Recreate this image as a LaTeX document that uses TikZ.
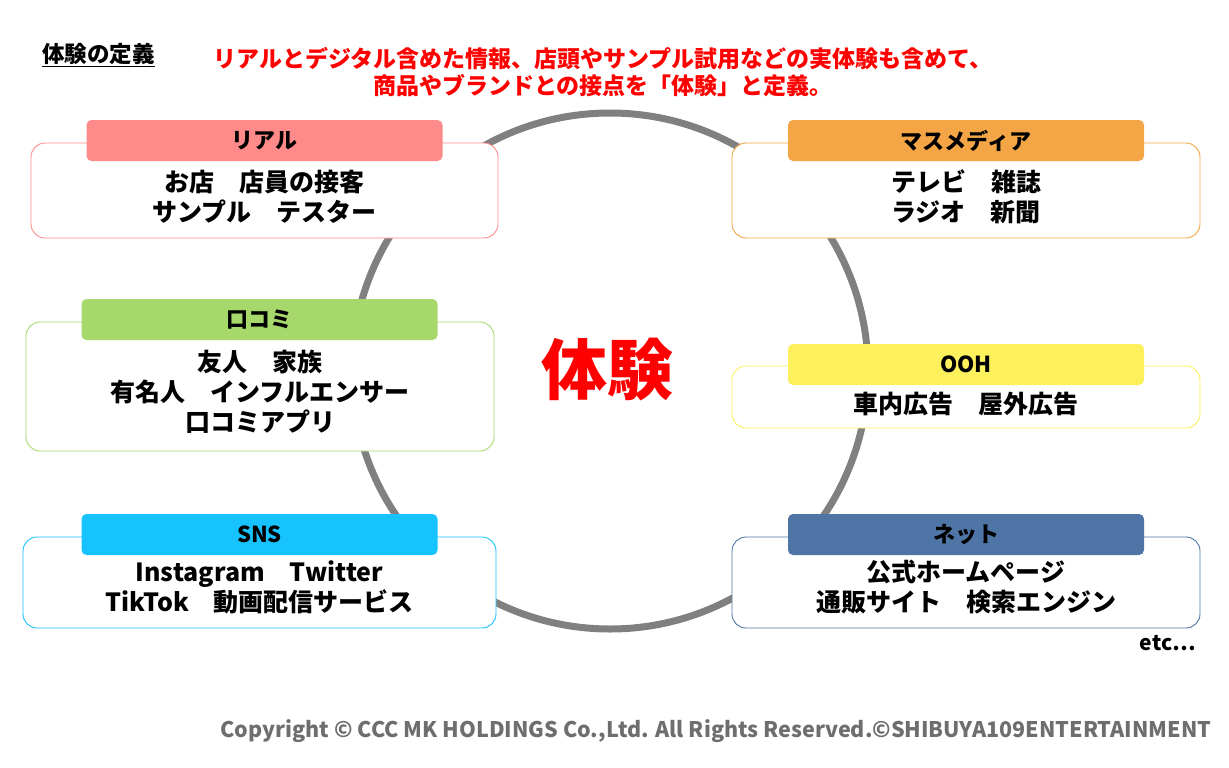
\documentclass[tikz,border=0pt]{standalone}
\usepackage{fontspec}
\setmainfont{Noto Sans CJK JP}
\usepackage{xcolor}
\usepackage{tikz}
\definecolor{realclr}{RGB}{255,138,138}
\definecolor{massclr}{RGB}{244,166,70}
\definecolor{kuchiclr}{RGB}{166,216,108}
\definecolor{oohclr}{RGB}{252,240,92}
\definecolor{snsclr}{RGB}{23,195,254}
\definecolor{netclr}{RGB}{79,116,166}
\definecolor{ringclr}{RGB}{128,128,128}
\definecolor{copyclr}{RGB}{110,110,110}
\tikzset{
    outer/.style={rectangle,draw=#1,fill=white,line width=0.9pt,
                  rounded corners=14pt,minimum width=468pt,inner sep=0pt},
    head/.style={rectangle,fill=#1,rounded corners=5pt,
                 minimum width=356pt,minimum height=41pt,inner sep=0pt,
                 font=\bfseries\fontsize{22}{26}\selectfont},
    body/.style={align=center,inner sep=0pt,
                 font=\bfseries\fontsize{25}{30}\selectfont},
}

\begin{document}
\begin{tikzpicture}[x=1pt,y=-1pt]
\useasboundingbox (0,0) rectangle (1229,768);

% ring behind the boxes
\draw[ringclr,line width=7pt] (610,371) circle[radius=258];

% heading and definition
\node[font=\bfseries\fontsize{22.5}{26}\selectfont,inner sep=0pt] (title) at (98.5,55) {\underline{体験の定義}};
\node[text=red,align=center,inner sep=0pt,
      font=\bfseries\fontsize{23}{27}\selectfont] (defn) at (603,72.5)
  {リアルとデジタル含めた情報、店頭やサンプル試用などの実体験も含めて、\\
   商品やブランドとの接点を「体験」と定義。};

\node[text=red,inner sep=0pt,font=\bfseries\fontsize{66}{70}\selectfont] (core) at (607,370) {体験};

% left column
\node[outer=realclr,minimum width=467pt,minimum height=95pt] (realbox) at (264.5,190.5) {};
\node[head=realclr] (realhd) at (264.5,140.5) {リアル};
\node[body] (realtx) at (264.5,197) {お店\quad 店員の接客\\サンプル\quad テスター};

\node[outer=kuchiclr,minimum height=129pt] (kuchibox) at (260,386.5) {};
\node[head=kuchiclr] (kuchihd) at (259.5,319.5) {口コミ};
\node[body] (kuchitx) at (260,392) {友人\quad 家族\\有名人\quad インフルエンサー\\口コミアプリ};

\node[outer=snsclr,minimum width=473pt,minimum height=91pt] (snsbox) at (259.5,582.5) {};
\node[head=snsclr] (snshd) at (259.5,534.5) {SNS};
\node[body] (snstx) at (259.5,587) {Instagram\quad Twitter\\TikTok\quad 動画配信サービス};

% right column
\node[outer=massclr,minimum height=95pt] (massbox) at (966,190.5) {};
\node[head=massclr] (masshd) at (966,140.5) {マスメディア};
\node[body] (masstx) at (966,197) {テレビ\quad 雑誌\\ラジオ\quad 新聞};

\node[outer=oohclr,minimum height=62pt] (oohbox) at (966,397) {};
\node[head=oohclr] (oohhd) at (966,364.5) {OOH};
\node[body] (oohtx) at (966,404) {車内広告\quad 屋外広告};

\node[outer=netclr,minimum height=91pt] (netbox) at (966,582.5) {};
\node[head=netclr] (nethd) at (966,534.5) {ネット};
\node[body] (nettx) at (966,587) {公式ホームページ\\通販サイト\quad 検索エンジン};

\node[inner sep=0pt,font=\bfseries\fontsize{21}{24}\selectfont] (etc) at (1168,643) {etc…};

% footer
\node[text=copyclr,inner sep=0pt,font=\bfseries\fontsize{21.5}{24}\selectfont] (copy) at (716,731)
  {Copyright © CCC MK HOLDINGS Co.,Ltd. All Rights Reserved.©SHIBUYA109ENTERTAINMENT};
\end{tikzpicture}
\end{document}
